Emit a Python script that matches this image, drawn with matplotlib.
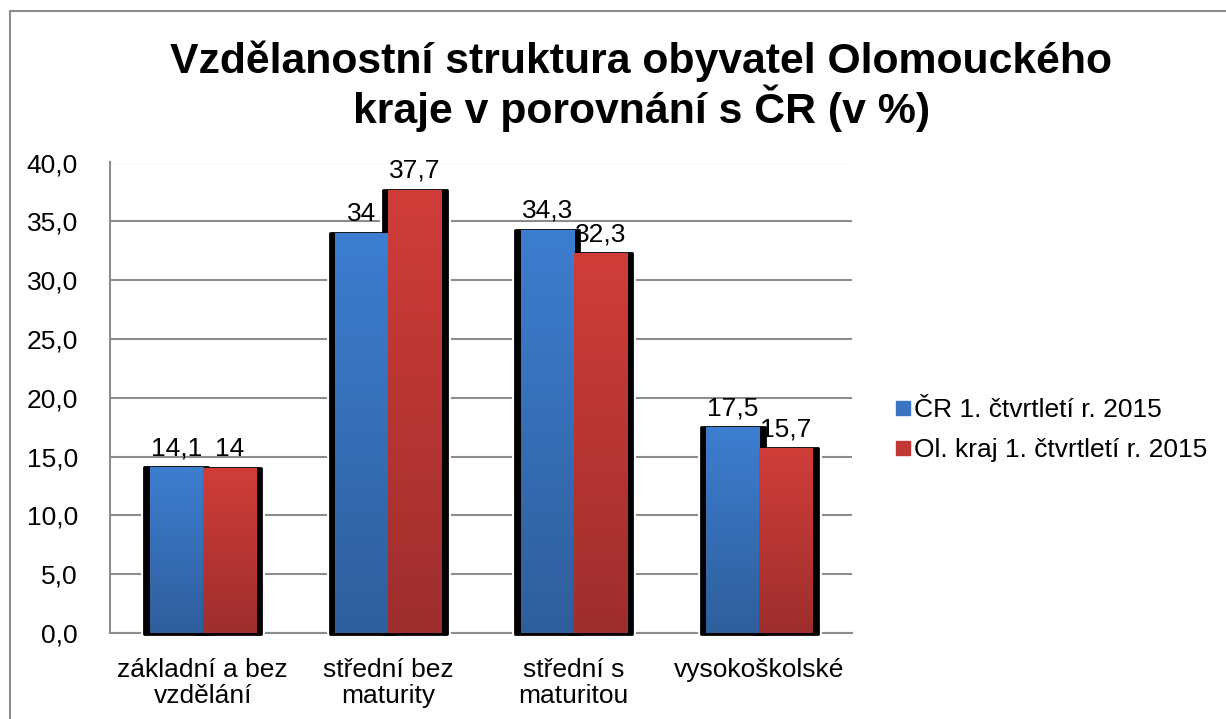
import numpy as np
import matplotlib.pyplot as plt
from matplotlib.patches import Rectangle
from matplotlib.lines import Line2D
from matplotlib.colors import LinearSegmentedColormap

plt.rcParams['font.family'] = ['Liberation Sans', 'DejaVu Sans']

categories = ['základní a bez\nvzdělání', 'střední bez\nmaturity', 'střední s\nmaturitou', 'vysokoškolské']
cr_values = [14.1, 34.0, 34.3, 17.5]
ol_values = [14.0, 37.7, 32.3, 15.7]
cr_labels = ['14,1', '34', '34,3', '17,5']
ol_labels = ['14', '37,7', '32,3', '15,7']
series_names = ['ČR 1. čtvrtletí r. 2015', 'Ol. kraj 1. čtvrtletí r. 2015']
yticks = [0, 5, 10, 15, 20, 25, 30, 35, 40]
ytick_labels = ['0,0', '5,0', '10,0', '15,0', '20,0', '25,0', '30,0', '35,0', '40,0']

blue_cm = LinearSegmentedColormap.from_list('b', ['#2F5E9C', '#3D7ED0'])
red_cm = LinearSegmentedColormap.from_list('r', ['#9E2E2E', '#D03D39'])

fig = plt.figure(figsize=(12.26, 7.19), dpi=100)
fig.patches.append(Rectangle((10/1226, -0.05), 1.2, 1 - 11/719 + 0.05, transform=fig.transFigure,
                             fill=False, edgecolor='#8c8c8c', linewidth=1.5))
ax = fig.add_axes([110/1226, 1 - 633/719, 742/1226, (633 - 162.5)/719])

x = np.arange(len(categories))
w = 0.286
ax.set_xlim(-0.5, len(categories) - 0.5)
ax.set_ylim(0, 40)

# shadow halo: slightly wider bar + round-joined black edge, white gap round it
sx = 5.5 / 185.5
for vals, off in ((cr_values, -w/2), (ol_values, w/2)):
    gap = ax.bar(x + off, np.array(vals) + 0.1, width=w + 2*sx, bottom=-0.1, color='white',
                 edgecolor='white', linewidth=5, zorder=1.5, clip_on=False)
    sh = ax.bar(x + off, np.array(vals) + 0.1, width=w + 2*sx, bottom=-0.1, color='black',
                edgecolor='black', linewidth=2, zorder=2, clip_on=False)
    for p in list(sh) + list(gap):
        p.set_joinstyle('round')

grad = np.linspace(0, 1, 256).reshape(-1, 1)
for vals, off, cm, labs in ((cr_values, -w/2, blue_cm, cr_labels), (ol_values, w/2, red_cm, ol_labels)):
    bars = ax.bar(x + off, vals, width=w, color='none', zorder=3)
    for b, lab in zip(bars, labs):
        x0, h = b.get_x(), b.get_height()
        im = ax.imshow(grad, cmap=cm, origin='lower', aspect='auto',
                       extent=(x0, x0 + w, 0, h), zorder=3)
        im.set_clip_path(b)
        ax.annotate(lab, (x0 + w/2, h), xytext=(0, 5), textcoords='offset points',
                    ha='center', va='bottom', fontsize=19, zorder=5)

ax.set_xlim(-0.5, len(categories) - 0.5)
ax.set_ylim(0, 40)
ax.set_yticks(yticks)
ax.set_yticklabels(ytick_labels, fontsize=19)
ax.set_xticks(x)
ax.set_xticklabels(categories, fontsize=19, linespacing=1.1)
ax.tick_params(axis='y', length=0, pad=23)
ax.tick_params(axis='x', length=0, pad=18)
ax.grid(axis='y', color='#8c8c8c', linewidth=1.5, zorder=0)
ax.set_axisbelow(True)
for s in ('top', 'right'):
    ax.spines[s].set_visible(False)
for s in ('left', 'bottom'):
    ax.spines[s].set_color('#8c8c8c')
    ax.spines[s].set_linewidth(1.5)
    ax.spines[s].set_zorder(1)

fig.text(0.523, 0.88, 'Vzdělanostní struktura obyvatel Olomouckého\nkraje v porovnání s ČR (v %)',
         ha='center', va='center', fontsize=30.8, fontweight='bold', linespacing=1.05)

handles = [Line2D([], [], marker='s', linestyle='none', color='#3A74C2', markersize=10),
           Line2D([], [], marker='s', linestyle='none', color='#C03735', markersize=10)]
fig.legend(handles, series_names, loc='center left', bbox_to_anchor=(869/1226, 1 - 430/719),
           frameon=False, fontsize=19, handletextpad=0.0, handlelength=0.8, labelspacing=0.6)

fig.savefig('out.png', dpi=100)
